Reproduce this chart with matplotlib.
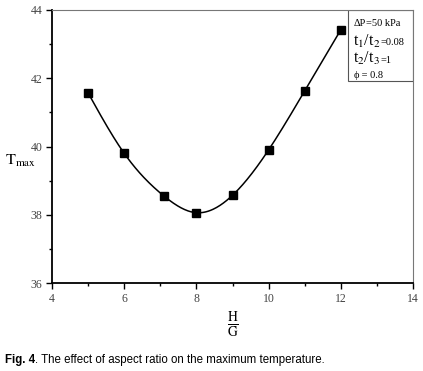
import numpy as np
import matplotlib.pyplot as plt
from matplotlib.patches import Rectangle

# aspect ratio H/G and maximum temperature
hg = [5, 6, 7.1, 8, 9, 10, 11, 12]
tmax = [41.57, 39.8, 38.55, 38.06, 38.57, 39.9, 41.63, 43.42]

param_lines = [("ΔP", "=50 kPa"), ("t$_1$/t$_2$", "=0.08"), ("t$_2$/t$_3$", "=1"), ("ϕ", " = 0.8")]


def natural_spline(x, y, n=300):
    # plain natural cubic spline through the points, for the smooth line
    x = np.asarray(x, float)
    y = np.asarray(y, float)
    h = np.diff(x)
    m = len(x)
    A = np.zeros((m, m))
    b = np.zeros(m)
    A[0, 0] = A[-1, -1] = 1
    for i in range(1, m - 1):
        A[i, i - 1] = h[i - 1]
        A[i, i] = 2 * (h[i - 1] + h[i])
        A[i, i + 1] = h[i]
        b[i] = 6 * ((y[i + 1] - y[i]) / h[i] - (y[i] - y[i - 1]) / h[i - 1])
    M = np.linalg.solve(A, b)
    xs = np.linspace(x[0], x[-1], n)
    idx = np.clip(np.searchsorted(x, xs) - 1, 0, m - 2)
    x0, x1 = x[idx], x[idx + 1]
    hh = x1 - x0
    ys = (M[idx] * (x1 - xs) ** 3 / (6 * hh) + M[idx + 1] * (xs - x0) ** 3 / (6 * hh)
          + (y[idx] / hh - M[idx] * hh / 6) * (x1 - xs)
          + (y[idx + 1] / hh - M[idx + 1] * hh / 6) * (xs - x0))
    return xs, ys


plt.rcParams['font.family'] = 'Liberation Serif'
plt.rcParams['mathtext.fontset'] = 'stix'

fig = plt.figure(figsize=(4.23, 3.71), dpi=100)
ax = fig.add_axes([52 / 423, 1 - 283 / 371, 361 / 423, 273 / 371])

xs, ys = natural_spline(hg, tmax)
ax.plot(xs, ys, color='black', lw=1.1)
ax.plot(hg, tmax, 's', color='black', ms=6)

ax.set_xlim(4, 14)
ax.set_ylim(36, 44)
ax.set_xticks(np.arange(4, 15, 2))
ax.set_xticks(np.arange(5, 14, 2), minor=True)
ax.set_yticks(np.arange(36, 45, 2))
ax.set_yticks(np.arange(37, 44, 2), minor=True)
ax.tick_params(which='major', length=4, width=1, labelsize=8.5, labelcolor='#444444', pad=3)
ax.tick_params(which='minor', length=2.5, width=1)
for s in ['left', 'bottom']:
    ax.spines[s].set_linewidth(1.3)
for s in ['top', 'right']:
    ax.spines[s].set_color('#777777')
    ax.spines[s].set_linewidth(0.8)

fig.text(5 / 423, 1 - 161 / 371, r'$\mathrm{T_{max}}$', fontsize=11.5, ha='left', va='center')
ax.set_xlabel(r'$\mathrm{\frac{H}{G}}$', fontsize=14, labelpad=4)

# parameter box
ax.add_patch(Rectangle((0.82, 0.74), 0.18, 0.26, transform=ax.transAxes,
                       fill=False, edgecolor='#555555', lw=0.8))
ypos = [0.94, 0.87, 0.805, 0.75]
sizes = [7.5, 11.5, 11.5, 7.5]
fig.canvas.draw()
inv = ax.transAxes.inverted()
for (lhs, rhs), yy, fs in zip(param_lines, ypos, sizes):
    t = ax.text(0.835, yy, lhs, transform=ax.transAxes, fontsize=fs, va='baseline', ha='left')
    bb = t.get_window_extent(renderer=fig.canvas.get_renderer())
    x_end = inv.transform((bb.x1, bb.y0))[0]
    ax.text(x_end, yy, rhs, transform=ax.transAxes, fontsize=7.5, va='baseline', ha='left')

cap = fig.text(5 / 423, 1 - 360 / 371, 'Fig. 4', fontsize=8.3, fontweight='bold',
               family='Liberation Sans', va='center')
fig.canvas.draw()
cbb = cap.get_window_extent(renderer=fig.canvas.get_renderer())
fig.text(cbb.x1 / fig.bbox.width, 1 - 360 / 371,
         '. The effect of aspect ratio on the maximum temperature.',
         fontsize=8.3, family='Liberation Sans', va='center')

fig.savefig('out.png', dpi=100)
